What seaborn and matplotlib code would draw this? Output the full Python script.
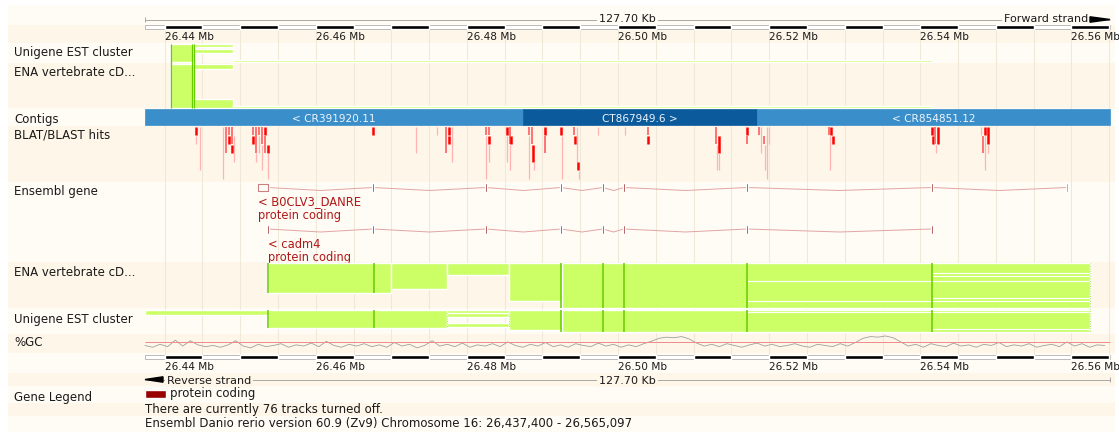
import numpy as np
import pandas as pd
import matplotlib
matplotlib.use("Agg")
import matplotlib.pyplot as plt
import seaborn as sns

# Ensembl region view: Danio rerio chromosome 16, 26,437,400 - 26,565,097
START_MB = 26.4374
END_MB = 26.565097
SPAN_KB = 127.70

tick_mb = [26.44, 26.46, 26.48, 26.50, 26.52, 26.54, 26.56]
tick_labels = ["26.44 Mb", "26.46 Mb", "26.48 Mb", "26.50 Mb", "26.52 Mb", "26.54 Mb", "26.56 Mb"]

track_names = ["Unigene EST cluster", "ENA vertebrate cD...", "Contigs", "BLAT/BLAST hits",
               "Ensembl gene", "ENA vertebrate cD...", "Unigene EST cluster", "%GC", "Gene Legend"]

# contigs (kb from region start)
contig_names = ["< CR391920.11", "CT867949.6 >", "< CR854851.12"]
contig_start_kb = [0.0, 50.02, 80.98]
contig_end_kb = [50.02, 80.98, 127.70]
contig_dark = [False, True, False]

# genes (exon positions, kb from region start)
gene_names = ["< B0CLV3_DANRE", "< cadm4"]
gene_biotype = "protein coding"
b0clv3_exons_kb = [16.28, 30.17, 45.12, 55.05, 60.61, 63.39, 79.66, 104.14, 122.01]
b0clv3_utr_kb = (14.95, 16.28)
cadm4_exons_kb = [16.28, 30.17, 45.12, 55.05, 60.61, 63.39, 79.66, 104.14]

# BLAT/BLAST hits: position kb, first row, last row (exclusive), score 0 weak .. 2 strong
blast_kb = [6.75, 6.75, 7.28,
            10.32, 10.72, 11.12, 11.12, 11.51, 11.51, 11.78,
            14.29, 14.29, 14.69, 14.69, 15.09, 15.09, 15.48, 15.48, 15.88, 15.88, 16.28, 16.28,
            30.17, 35.86, 38.64,
            39.83, 40.23, 40.23, 40.62,
            45.12, 45.12, 45.52, 45.52, 45.52,
            47.90, 47.90, 48.30, 48.30, 48.43,
            50.81, 50.81, 51.21, 51.34, 51.48,
            52.93, 52.93, 55.05, 55.18,
            56.77, 56.90, 57.17, 57.30, 57.43,
            59.94, 63.52, 66.56, 66.56,
            75.56, 75.69, 75.96, 75.96,
            79.66, 79.66,
            81.25, 81.51, 81.91, 82.04, 82.31, 82.57,
            90.51, 90.78, 91.04, 90.64,
            104.14, 104.27, 104.54, 104.67, 104.94,
            110.63, 110.89, 111.15, 111.15, 111.55, 111.55]
blast_row0 = [0, 1, 0,
              0, 0, 0, 1, 0, 2, 1,
              0, 1, 0, 3, 0, 1, 0, 2, 0, 1, 2, 3,
              0, 0, 0,
              0, 0, 1, 0,
              0, 1, 0, 1, 2,
              0, 1, 0, 2, 1,
              0, 1, 0, 2, 4,
              0, 1, 0, 1,
              0, 1, 0, 4, 5,
              0, 0, 0, 1,
              0, 2, 1, 3,
              0, 1,
              0, 0, 1, 2, 0, 0,
              0, 0, 1, 1,
              0, 1, 0, 2, 0,
              0, 1, 0, 1, 0, 2]
blast_row1 = [1, 2, 5,
              6, 3, 1, 2, 2, 3, 4,
              1, 2, 3, 4, 1, 3, 2, 5, 1, 3, 3, 6,
              1, 3, 1,
              3, 1, 2, 4,
              1, 6, 1, 2, 4,
              1, 4, 2, 5, 2,
              1, 6, 2, 4, 5,
              1, 3, 1, 6,
              1, 2, 4, 5, 6,
              1, 1, 1, 2,
              2, 5, 3, 5,
              1, 2,
              1, 3, 2, 5, 6, 2,
              1, 1, 2, 5,
              1, 2, 2, 3, 2,
              1, 3, 1, 5, 2, 3]
blast_score = [2, 0, 0,
               0, 1, 1, 2, 1, 2, 0,
               1, 2, 1, 0, 1, 0, 1, 0, 2, 1, 2, 0,
               2, 0, 0,
               1, 2, 2, 0,
               1, 0, 1, 2, 0,
               2, 0, 1, 0, 2,
               1, 0, 1, 2, 0,
               2, 1, 2, 0,
               1, 2, 0, 2, 0,
               0, 0, 1, 2,
               1, 0, 2, 0,
               2, 1,
               1, 0, 1, 0, 0, 0,
               1, 2, 2, 0,
               2, 2, 1, 0, 2,
               0, 1, 2, 0, 2, 0]

# %GC per 1 kb window
gc_kb = np.arange(0, 128)
gc_pct = [41, 38, 43, 39, 50, 40, 49, 42, 39, 41,
          38, 42, 49, 40, 37, 43, 39, 41, 44, 38,
          42, 40, 45, 39, 48, 41, 38, 43, 40, 44,
          39, 42, 38, 46, 40, 43, 37, 41, 49, 40,
          43, 39, 45, 38, 42, 40, 44, 39, 47, 41,
          38, 43, 40, 46, 39, 42, 38, 44, 41, 39,
          45, 40, 43, 38, 42, 39, 44, 48, 53, 55,
          54, 56, 52, 45, 40, 43, 39, 44, 41, 38,
          42, 45, 40, 43, 39, 41, 44, 40, 38, 43,
          41, 39, 44, 40, 46, 53, 56, 55, 57, 54,
          47, 40, 43, 38, 44, 41, 39, 45, 40, 42,
          38, 43, 41, 46, 39, 42, 40, 44, 38, 41,
          43, 39, 47, 40, 44, 38, 42, 41]
gc_threshold = 47

# ---- layout helpers (pixels of the 1119x432 picture) ----
W, H = 1119, 432
X0, X1 = 145, 1110
PPM = (X1 - X0) / (SPAN_KB / 1000)


def mb(kb):
    return START_MB + np.asarray(kb, dtype=float) / 1000


def px(x):
    return START_MB + (x - X0) / PPM


BEIGE = "#fef6e8"
LIGHT = "#fffcf6"
LIME = "#ccff66"
DKGREEN = "#66cc00"
TXT = "#1a1a1a"
GENE_RED = "#b01818"

sns.set_theme(style="white")
plt.rcParams["font.family"] = ["DejaVu Sans"]

fig = plt.figure(figsize=(W / 100, H / 100), dpi=100)
ax = fig.add_axes([0, 0, 1, 1])
ax.set_xlim(px(0), px(W))
ax.set_ylim(H, 0)
ax.axis("off")

# alternating track backgrounds
bands = [(5, 25, LIGHT), (25, 43, BEIGE), (43, 63, LIGHT), (63, 108, BEIGE), (108, 126, LIGHT),
         (126, 182, BEIGE), (182, 262, LIGHT), (262, 308, BEIGE), (308, 334, LIGHT), (334, 353, BEIGE),
         (353, 373, LIGHT), (373, 386, BEIGE), (386, 403, LIGHT), (403, 416, BEIGE), (416, 432, LIGHT)]
for y0, y1, c in bands:
    ax.broken_barh([(px(8), px(1115) - px(8))], (y0, y1 - y0), facecolor=c, edgecolor=c, lw=0, zorder=0)

# light vertical guides
ax.vlines(np.arange(26.44, END_MB, 0.005), 29, 355, colors="#f0e8d8", lw=0.8, zorder=1)

# track labels
label_base = [56.3, 76.3, 123, 138.5, 195.5, 276.5, 323.5, 346, 400.5]
for name, yb in zip(track_names, label_base):
    ax.text(px(14), yb, name, fontsize=8.5, color=TXT, va="baseline", ha="left")


def ruler(y0, y1, label_y):
    ax.broken_barh([(START_MB, END_MB - START_MB)], (y0, y1 - y0), facecolor="white",
                   edgecolor="#b0b0b0", lw=0.6, zorder=3)
    blk = np.arange(26.44, END_MB, 0.01)
    ax.broken_barh([(b, min(0.005, END_MB - b)) for b in blk], (y0, y1 - y0),
                   facecolor="black", zorder=4)
    for t, lab in zip(tick_mb, tick_labels):
        ax.text(t, label_y, lab, fontsize=7.6, color=TXT, ha="left", va="baseline")


# top ruler
ax.hlines(19.5, START_MB, END_MB, color="#9a9a9a", lw=0.6, zorder=2)
ax.vlines(START_MB, 17, 22, color="#9a9a9a", lw=0.6)
ax.text(px(627.5), 22.5, f"{SPAN_KB:.2f} Kb", fontsize=8, color=TXT, ha="center", va="baseline",
        bbox=dict(fc=LIGHT, ec="none", pad=1.2), zorder=3)
ax.text(px(1088), 22.5, "Forward strand", fontsize=8, color=TXT, ha="right", va="baseline",
        bbox=dict(fc=LIGHT, ec="none", pad=1.2), zorder=3)
ax.fill([px(1090), px(1110), px(1090)], [16.8, 19.5, 22.2], color="black", zorder=4)
ruler(24.8, 29.2, 40.5)

# upper EST / cDNA alignments
ax.broken_barh([(mb(3.44), mb(6.48) - mb(3.44))], (44, 18), facecolor=LIME, zorder=3)
ax.broken_barh([(mb(6.48), mb(11.64) - mb(6.48))], (44, 3), facecolor=LIME, zorder=3)
ax.broken_barh([(mb(6.48), mb(11.64) - mb(6.48))], (49, 3.5), facecolor=LIME, zorder=3)
ax.broken_barh([(mb(11.64), mb(104.14) - mb(11.64))], (60.3, 1.6), facecolor=LIME, zorder=3)
ax.broken_barh([(mb(3.44), mb(6.48) - mb(3.44))], (63.5, 44), facecolor=LIME, zorder=3)
ax.broken_barh([(mb(6.48), mb(11.64) - mb(6.48))], (63.5, 5.5), facecolor=LIME, zorder=3)
ax.broken_barh([(mb(6.48), mb(11.64) - mb(6.48))], (99, 8.5), facecolor=LIME, zorder=3)
ax.broken_barh([(mb(11.64), mb(104.14) - mb(11.64))], (106, 1.6), facecolor=LIME, zorder=3)
ax.vlines(mb([3.5, 6.25, 6.45]), 44, 107.5, colors=DKGREEN, lw=0.9, zorder=4)

# contigs
for name, a, b, dark in zip(contig_names, contig_start_kb, contig_end_kb, contig_dark):
    c = "#0a5a9c" if dark else "#3a8fca"
    ax.broken_barh([(mb(a), mb(b) - mb(a))], (108.5, 16.5), facecolor=c, edgecolor=c, lw=0.5, zorder=3)
    ax.text(mb((a + b) / 2), 121.5, name, fontsize=7.6, color="#eef4fa",
            ha="center", va="baseline", zorder=4)

# BLAT/BLAST hits
blast_col = ["#ffb3b3", "#ff6a6a", "#ff0000"]
blast_lw = [0.9, 1.3, 1.8]
for k, r0, r1, s in zip(blast_kb, blast_row0, blast_row1, blast_score):
    ax.vlines(mb(k), 127 + 8.8 * r0, 127 + 8.8 * r1 - 0.6, colors=blast_col[s], lw=blast_lw[s], zorder=3)


# Ensembl genes
def draw_gene(exons, yc, last_light=False):
    for a, b in zip(exons[:-1], exons[1:]):
        xa, xb = mb(a), mb(b)
        ax.plot([xa, (xa + xb) / 2, xb], [yc, yc + 3, yc], color="#e2a4a4", lw=0.7, zorder=3)
    w = 2.4 / PPM
    cols = ["#8b0a0a"] * len(exons)
    if last_light:
        cols[-1] = "#c46a6a"
    for e, c in zip(exons, cols):
        ax.broken_barh([(mb(e) - w / 2, w)], (yc - 4.5, 9), facecolor=c, zorder=4)


draw_gene(b0clv3_exons_kb, 187.5, last_light=True)
ax.broken_barh([(mb(b0clv3_utr_kb[0]), mb(b0clv3_utr_kb[1]) - mb(b0clv3_utr_kb[0]))], (184, 7),
               facecolor="none", edgecolor="#c98080", lw=0.8, zorder=4)
ax.text(mb(b0clv3_utr_kb[0]), 205.5, gene_names[0], fontsize=8.3, color=GENE_RED, va="baseline")
ax.text(mb(b0clv3_utr_kb[0]), 218.8, gene_biotype, fontsize=8.3, color=GENE_RED, va="baseline")
draw_gene(cadm4_exons_kb, 229)
ax.text(mb(cadm4_exons_kb[0]), 247.8, gene_names[1], fontsize=8.3, color=GENE_RED, va="baseline")
ax.text(mb(cadm4_exons_kb[0]), 261, gene_biotype, fontsize=8.3, color=GENE_RED, va="baseline")

# lower cDNA alignments
cdna_low = [(16.28, 32.55, 263, 293), (32.55, 39.96, 263, 289), (39.96, 48.17, 263, 275),
            (48.17, 55.18, 263, 301), (55.18, 125.05, 263, 307.5)]
for a, b, y0, y1 in cdna_low:
    ax.broken_barh([(mb(a), mb(b) - mb(a))], (y0, y1 - y0), facecolor=LIME, zorder=3)
for a, y in [(79.66, 281), (79.66, 300.6), (104.14, 273.4), (104.14, 276), (104.14, 298.4)]:
    ax.hlines(y, mb(a), mb(125.05), colors="white", lw=0.8, zorder=4)

# lower EST clusters
est_low = [(0.0, 125.05, 310, 314.5), (16.28, 39.96, 310, 328), (39.96, 48.17, 313, 316.5),
           (39.96, 48.17, 323, 327), (48.17, 55.18, 310, 330), (55.18, 125.05, 310, 332)]
for a, b, y0, y1 in est_low:
    ax.broken_barh([(mb(a), mb(b) - mb(a))], (y0, y1 - y0), facecolor=LIME, zorder=3)
for a, y in [(79.66, 312), (104.14, 329)]:
    ax.hlines(y, mb(a), mb(125.05), colors="white", lw=0.8, zorder=4)

for k in [16.28, 30.30]:
    ax.vlines(mb(k), 263, 293, colors=DKGREEN, lw=1.1, zorder=5)
    ax.vlines(mb(k), 310, 328, colors=DKGREEN, lw=1.1, zorder=5)
for k in [55.05, 60.61, 63.39, 79.66, 104.14]:
    ax.vlines(mb(k), 263, 307.5, colors=DKGREEN, lw=1.1, zorder=5)
    ax.vlines(mb(k), 310, 332, colors=DKGREEN, lw=1.1, zorder=5)
ax.vlines(mb(125.05), 263, 332, colors="#99dd44", lw=0.6, zorder=5, linestyles=(0, (1, 2)))
ax.vlines(mb([39.96, 48.17]), 313, 327, colors="#99dd44", lw=0.6, zorder=5, linestyles=(0, (1, 2)))

# %GC track on its own axes
gc_ax = fig.add_axes([0, 1 - 352 / H, 1, 19 / H])
gc_ax.set_xlim(px(0), px(W))
gc_ax.set_ylim(30, 62)
gc_ax.axis("off")
gc_ax.patch.set_alpha(0)
gc = pd.DataFrame({"pos": mb(gc_kb), "gc": gc_pct})
sns.lineplot(data=gc, x="pos", y="gc", ax=gc_ax, color="#a0a0a0", lw=0.6)
gc_ax.hlines(gc_threshold, START_MB, END_MB, colors="#f08a8a", lw=0.7)

# bottom ruler
ruler(354.8, 359.2, 370.5)
ax.hlines(379.5, START_MB, END_MB, color="#9a9a9a", lw=0.6, zorder=2)
ax.vlines(END_MB, 377, 382, color="#9a9a9a", lw=0.6)
ax.fill([px(145), px(163), px(163)], [379.5, 376.8, 382.2], color="black", zorder=4)
ax.text(px(167), 383.5, "Reverse strand", fontsize=8, color=TXT, ha="left", va="baseline",
        bbox=dict(fc=BEIGE, ec="none", pad=1.2), zorder=3)
ax.text(px(627.5), 383.5, f"{SPAN_KB:.2f} Kb", fontsize=8, color=TXT, ha="center", va="baseline",
        bbox=dict(fc=BEIGE, ec="none", pad=1.2), zorder=3)

# legend and footer
ax.broken_barh([(px(145), 21 / PPM)], (390, 8), facecolor="#990000", zorder=3)
ax.text(px(170), 397.5, "protein coding", fontsize=8.5, color=TXT, va="baseline")
ax.text(px(145), 413.5, "There are currently 76 tracks turned off.", fontsize=8.5, color=TXT, va="baseline")
ax.text(px(145), 427, "Ensembl Danio rerio version 60.9 (Zv9) Chromosome 16: 26,437,400 - 26,565,097",
        fontsize=8.5, color=TXT, va="baseline")

fig.savefig("out.png", dpi=100, facecolor="white")
